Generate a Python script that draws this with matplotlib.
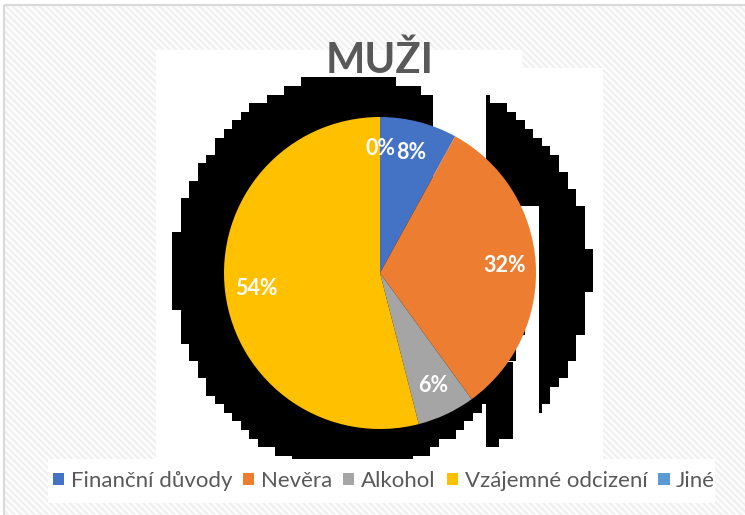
import numpy as np
import matplotlib
matplotlib.use("Agg")
import matplotlib.pyplot as plt
from matplotlib.patches import Rectangle, Patch

plt.rcParams['font.family'] = ['Lato', 'DejaVu Sans']
plt.rcParams['hatch.linewidth'] = 1.4

title = "MUŽI"
categories = ["Finanční důvody", "Nevěra", "Alkohol", "Vzájemné odcizení", "Jiné"]
shares = [8, 32, 6, 54, 0]
colors = ["#4472C4", "#ED7D31", "#A5A5A5", "#FFC000", "#5B9BD5"]

W, H = 745, 515
fig = plt.figure(figsize=(W / 100, H / 100), dpi=100)
fig.patch.set_facecolor("white")

# background layer in pixel units (y grows downward)
bg = fig.add_axes([0, 0, 1, 1])
bg.set_xlim(0, W)
bg.set_ylim(H, 0)
bg.axis("off")

bg.add_patch(Rectangle((4, 5), W, H, facecolor="#fcfcfc", edgecolor="none", zorder=0))
bg.add_patch(Rectangle((4, 5), W, H, facecolor="none", edgecolor="#efefef",
                       hatch="\\\\\\\\\\", lw=0, zorder=1))
bg.add_patch(Rectangle((4, 5), W, H, facecolor="none", edgecolor="#d9d9d9", lw=1.5, zorder=2))

# white plot area and legend strip
bg.add_patch(Rectangle((156, 50), 366, 20, facecolor="white", lw=0, zorder=3))
bg.add_patch(Rectangle((156, 68), 447, 391, facecolor="white", lw=0, zorder=3))
bg.add_patch(Rectangle((48, 459), 667, 44, facecolor="white", lw=0, zorder=3))

# blocky dark halo behind the pie
cell = 8.6
px = np.arange(W) + 0.5
py = np.arange(H) + 0.5
X, Y = np.meshgrid(px, py)
QX, QY = np.meshgrid((np.floor(px / cell) + 0.5) * cell, (np.floor(py / cell) + 0.5) * cell)
left_part = ((QX - 351) / 178) ** 2 + ((QY - 273) / 198) ** 2 <= 1
left_part &= ~((X > 433) & (Y < 200))
right_part = ((QX - 405) / 185) ** 2 + ((QY - 273) / 198) ** 2 <= 1
right_part &= X >= 486
right_part &= ~((X < 539) & (Y > 206) & (Y < 362))
right_part &= ~((X >= 513) & (X < 539) & (Y >= 362))
halo = (left_part | right_part) & (Y < 459) & (Y > 50)
rgba = np.zeros((H, W, 4))
rgba[halo, 3] = 1.0
bg.imshow(rgba, extent=(0, W, H, 0), interpolation="nearest", aspect="auto", zorder=4)

bg.text(380, 73, title, ha="center", va="baseline", fontsize=30,
        fontweight="bold", color="#595959", zorder=5)

# pie, centre (380, 273) px, radius 156 px
cx, cy, r = 380, 273, 156
ax = fig.add_axes([(cx - r) / W, 1 - (cy + r) / H, 2 * r / W, 2 * r / H])
wedges, texts, autotexts = ax.pie(
    shares, colors=colors, startangle=90, counterclock=False,
    autopct=lambda p: "%d%%" % round(p), pctdistance=0.8,
    wedgeprops=dict(linewidth=0),
    textprops=dict(color="white", fontsize=15.5, fontweight="bold"))
ax.set_xlim(-1, 1)
ax.set_ylim(-1, 1)

handles = [Patch(facecolor=c, edgecolor="none") for c in colors]
fig.legend(handles, categories, loc="center", bbox_to_anchor=(384 / W, 1 - 481 / H),
           ncol=5, frameon=False, fontsize=16, labelcolor="#595959",
           handlelength=0.5, handleheight=0.5, handletextpad=0.3,
           columnspacing=0.5, borderaxespad=0)

fig.savefig("out.png", dpi=100)
